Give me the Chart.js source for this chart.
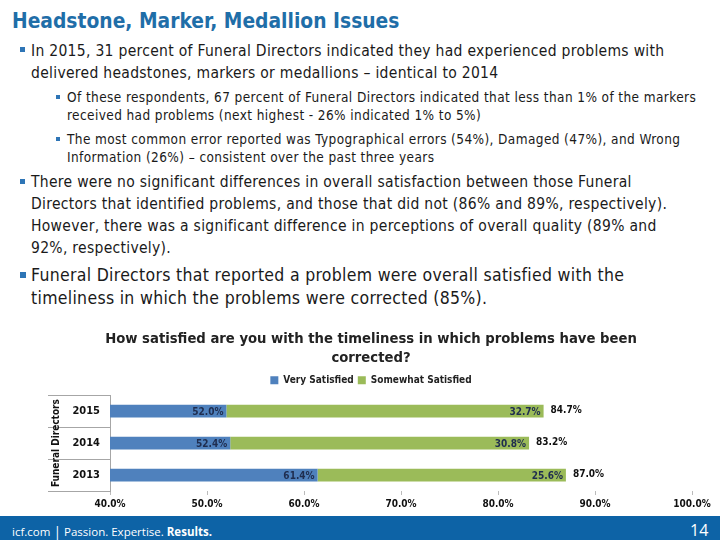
<!DOCTYPE html>
<html>
<head>
<meta charset="utf-8">
<script src="https://cdn.jsdelivr.net/npm/chart.js@4.4.0/dist/chart.umd.min.js"></script>
<style>
  body { margin: 0; width: 720px; height: 540px; position: relative; overflow: hidden; background: #fff;
         font-family: "DejaVu Sans Condensed", "Open Sans", sans-serif; color: #1a1a1a; }
  .t { position: absolute; white-space: nowrap; }
  .sq { position: absolute; width: 5px; height: 5px; background: #2e75b6; }
  #title { left: 12px; top: 9px; font-size: 20.8px; font-weight: bold; color: #1f6ea8; }
  #footer { position: absolute; left: 0; top: 516px; width: 720px; height: 24px; background: #0d63a6; color: #fff; }
  #wrap { position: absolute; left: 0; top: 320px; width: 720px; height: 196px; }
</style>
</head>
<body>
<div class="t" id="title">Headstone, Marker, Medallion Issues</div>

<div class="sq" style="left:20px;top:47px"></div>
<div class="t" style="left:31px;top:40px;font-size:15.5px;line-height:22px;letter-spacing:0.3px">In 2015, 31 percent of Funeral Directors indicated they had experienced problems with<br>delivered headstones, markers or medallions – identical to 2014</div>

<div class="sq" style="left:56px;top:95px;width:4px;height:4px"></div>
<div class="t" style="left:67px;top:88px;font-size:13.5px;line-height:18px;letter-spacing:0.4px">Of these respondents, 67 percent of Funeral Directors indicated that less than 1% of the markers<br>received had problems (next highest - 26% indicated 1% to 5%)</div>
<div class="sq" style="left:56px;top:137px;width:4px;height:4px"></div>
<div class="t" style="left:67px;top:130px;font-size:13.5px;line-height:18px;letter-spacing:0.4px">The most common error reported was Typographical errors (54%), Damaged (47%), and Wrong<br>Information (26%) – consistent over the past three years</div>

<div class="sq" style="left:20px;top:179px"></div>
<div class="t" style="left:31px;top:171px;font-size:15.5px;line-height:22px;letter-spacing:0.3px">There were no significant differences in overall satisfaction between those Funeral<br>Directors that identified problems, and those that did not (86% and 89%, respectively).<br>However, there was a significant difference in perceptions of overall quality (89% and<br>92%, respectively).</div>

<div class="sq" style="left:20px;top:272px;width:6px;height:6px"></div>
<div class="t" style="left:31px;top:264px;font-size:17.5px;line-height:23px;letter-spacing:0.3px">Funeral Directors that reported a problem were overall satisfied with the<br>timeliness in which the problems were corrected (85%).</div>

<div id="wrap"><canvas id="chart" width="720" height="196"></canvas></div>

<div id="footer">
  <div class="t" style="left:12px;top:5px;font-size:11.5px;font-family:'Open Sans',sans-serif">icf.com <span style="font-size:14px;position:relative;top:1px">|</span> Passion. Expertise. <b>Results.</b></div>
  <div class="t" style="left:690px;top:3px;font-size:16px;font-family:'Open Sans',sans-serif">14</div>
</div>

<script>
const years = ['2015', '2014', '2013'];
const verySatisfied = [52.0, 52.4, 61.4];
const somewhatSatisfied = [32.7, 30.8, 25.6];
const totals = [84.7, 83.2, 87.0];
const xMin = 40, xMax = 100, xStep = 10;

const chartFont = '"DejaVu Sans Condensed", "Open Sans", sans-serif';

// writes the values on the bars and the totals after them
const barLabels = {
  id: 'barLabels',
  afterDatasetsDraw(chart) {
    const ctx = chart.ctx;
    ctx.save();
    ctx.font = 'bold 10px ' + chartFont;
    ctx.textBaseline = 'middle';
    chart.data.datasets.forEach((ds, i) => {
      const meta = chart.getDatasetMeta(i);
      meta.data.forEach((bar, j) => {
        ctx.fillStyle = '#1f2d4f';
        ctx.textAlign = 'right';
        ctx.fillText(ds.data[j].toFixed(1) + '%', bar.x - 3, bar.y + 1);
        if (i === chart.data.datasets.length - 1) {
          ctx.fillStyle = '#111';
          ctx.textAlign = 'left';
          ctx.fillText(totals[j].toFixed(1) + '%', bar.x + 7, bar.y - 1);
        }
      });
    });
    ctx.restore();
  }
};

const ctx = document.getElementById('chart').getContext('2d');
new Chart(ctx, {
  type: 'bar',
  data: {
    labels: years,
    datasets: [{
      label: 'Very Satisfied',
      data: verySatisfied,
      backgroundColor: '#4f81bd',
      barPercentage: 0.4,
      categoryPercentage: 1
    }, {
      label: 'Somewhat Satisfied',
      data: somewhatSatisfied,
      backgroundColor: '#9bbb59',
      barPercentage: 0.4,
      categoryPercentage: 1
    }]
  },
  options: {
    indexAxis: 'y',
    responsive: false,
    animation: false,
    layout: { padding: { left: 50, right: 28, top: 10, bottom: 3 } },
    plugins: {
      title: {
        display: true,
        text: ['How satisfied are you with the timeliness in which problems have been', 'corrected?'],
        color: '#222',
        font: { family: chartFont, size: 14.7, weight: 'bold', lineHeight: 1.3 },
        padding: { top: 0, bottom: 3 }
      },
      legend: {
        labels: {
          boxWidth: 8, boxHeight: 8, padding: 4,
          color: '#222',
          font: { family: chartFont, size: 10, weight: 'bold' }
        }
      },
      tooltip: { enabled: false }
    },
    scales: {
      x: {
        stacked: true,
        min: xMin, max: xMax,
        ticks: {
          stepSize: xStep, padding: 3,
          color: '#111',
          font: { family: chartFont, size: 10, weight: 'bold' },
          callback: v => v.toFixed(1) + '%'
        },
        grid: { drawOnChartArea: false, drawTicks: true, tickLength: 4, color: '#bbb' },
        border: { display: false }
      },
      y: {
        stacked: true,
        afterFit: s => { s.width = 60; },
        ticks: {
          color: '#111', padding: -52,
          font: { family: chartFont, size: 11, weight: 'bold' }
        },
        grid: { drawOnChartArea: false, offset: true, tickLength: 62, color: '#a6a6a6' },
        border: { display: true, color: '#a6a6a6' },
        title: {
          display: true, text: 'Funeral Directors', color: '#111', padding: 0,
          font: { family: chartFont, size: 10, weight: 'bold' }
        }
      }
    }
  },
  plugins: [barLabels]
});
</script>
</body>
</html>
